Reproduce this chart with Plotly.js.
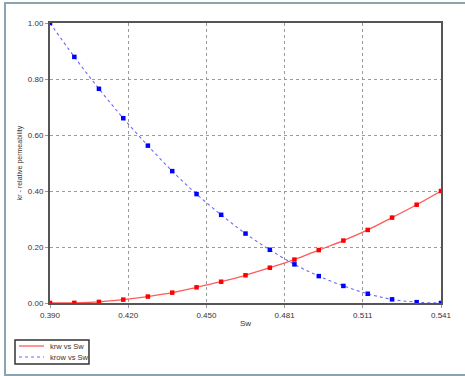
<!DOCTYPE html>
<html>
<head>
<meta charset="utf-8">
<script src="https://cdn.plot.ly/plotly-3.0.1.min.js"></script>
<style>
  html, body { margin: 0; padding: 0; background: #ffffff; }
  #chart { width: 465px; height: 376px; }
</style>
</head>
<body>
<div id="chart"></div>
<script>
// Water saturation values
const sw = [0.3900, 0.3994, 0.4089, 0.4183, 0.4278, 0.4372, 0.4466, 0.4561, 0.4655,
            0.4749, 0.4844, 0.4938, 0.5033, 0.5127, 0.5221, 0.5316, 0.5410];
// Relative permeability to water
const krw = [0.000, 0.0005, 0.004, 0.012, 0.023, 0.037, 0.056, 0.076, 0.099,
             0.126, 0.155, 0.189, 0.223, 0.261, 0.305, 0.351, 0.400];
// Relative permeability to oil (in presence of water)
const krow = [1.000, 0.879, 0.765, 0.660, 0.562, 0.471, 0.389, 0.315, 0.248,
              0.190, 0.138, 0.096, 0.061, 0.033, 0.013, 0.003, 0.000];
// X tick positions and labels
const xTickVals = [0.3900, 0.4202, 0.4504, 0.4806, 0.5108, 0.5410];
const xTickText = ["0.390", "0.420", "0.450", "0.481", "0.511", "0.541"];
const yTickVals = [0, 0.2, 0.4, 0.6, 0.8, 1.0];
// Series names
const seriesNames = ["krw vs Sw", "krow vs Sw"];
const lineColors = ["#ff5a5a", "#6a6aff"];
const markerColors = ["#ff0000", "#0000ff"];
const lineDashes = ["solid", "dot"];
const lineWidths = [1.3, 1.1];

const font = "Liberation Sans, Arial, sans-serif";

const traces = [
  { x: sw, y: krw, name: seriesNames[0], mode: "lines", type: "scatter",
    line: { color: lineColors[0], width: lineWidths[0], shape: "spline", dash: lineDashes[0] } },
  { x: sw, y: krow, name: seriesNames[1], mode: "lines", type: "scatter",
    line: { color: lineColors[1], width: lineWidths[1], dash: lineDashes[1], shape: "spline" } },
  { x: sw, y: krw, mode: "markers", type: "scatter", name: seriesNames[0],
    marker: { color: markerColors[0], size: 4.5, symbol: "square" } },
  { x: sw, y: krow, mode: "markers", type: "scatter", name: seriesNames[1],
    marker: { color: markerColors[1], size: 4.5, symbol: "square" } }
];

// Legend drawn in the lower-left, below the plot (paper coords)
const legBox = { x0: -0.0895, x1: 0.0997, y0: -0.2179, y1: -0.1321 };
const legRowsY = [-0.1536, -0.1929];
const legLineX = [-0.0793, -0.0153];
const legTextX = -0.0051;

const shapes = [
  { type: "rect", xref: "paper", yref: "paper",
    x0: -0.1151, x1: 1.08, y0: -0.2571, y1: 1.0714,
    line: { color: "#8aa4b0", width: 2 }, fillcolor: "rgba(0,0,0,0)", layer: "below" },
  { type: "rect", xref: "paper", yref: "paper",
    x0: legBox.x0, x1: legBox.x1, y0: legBox.y0, y1: legBox.y1,
    line: { color: "#333333", width: 1.5 }, fillcolor: "#ffffff", layer: "above" }
];
const annotations = [];
for (let i = 0; i < seriesNames.length; i++) {
  shapes.push({ type: "line", xref: "paper", yref: "paper",
    x0: legLineX[0], x1: legLineX[1], y0: legRowsY[i], y1: legRowsY[i],
    line: { color: lineColors[i], width: lineWidths[i], dash: lineDashes[i] } });
  annotations.push({ xref: "paper", yref: "paper", x: legTextX, y: legRowsY[i],
    xanchor: "left", yanchor: "middle", showarrow: false, text: seriesNames[i],
    font: { family: font, size: 7.5, color: "#333333" } });
}

const layout = {
  width: 465, height: 376,
  margin: { l: 50, r: 24, t: 23, b: 73, pad: 0 },
  paper_bgcolor: "#ffffff",
  plot_bgcolor: "#ffffff",
  font: { family: font, size: 8, color: "#333333" },
  showlegend: false,
  xaxis: {
    range: [0.390, 0.541],
    tickvals: xTickVals, ticktext: xTickText,
    showgrid: true, gridcolor: "#9a9a9a", gridwidth: 1, griddash: "dot",
    showline: true, linecolor: "#555555", linewidth: 2, mirror: true,
    ticks: "outside", ticklen: 3, tickcolor: "#9a9a9a",
    zeroline: false, automargin: false,
    tickfont: { family: font, size: 8, color: "#333333" },
    title: { text: "Sw", font: { family: font, size: 8, color: "#333333" }, standoff: 2 }
  },
  yaxis: {
    range: [0, 1],
    tickvals: yTickVals, tickformat: ".2f",
    showgrid: true, gridcolor: "#9a9a9a", gridwidth: 1, griddash: "dot",
    showline: true, linecolor: "#555555", linewidth: 2, mirror: true,
    ticks: "outside", ticklen: 3, tickcolor: "#9a9a9a",
    zeroline: false, automargin: false,
    tickfont: { family: font, size: 8, color: "#333333" },
    title: { text: "kr - relative permeability", font: { family: font, size: 7, color: "#333333" }, standoff: 4 }
  },
  shapes: shapes,
  annotations: annotations
};

Plotly.newPlot("chart", traces, layout, { displayModeBar: false, staticPlot: true });
</script>
</body>
</html>
